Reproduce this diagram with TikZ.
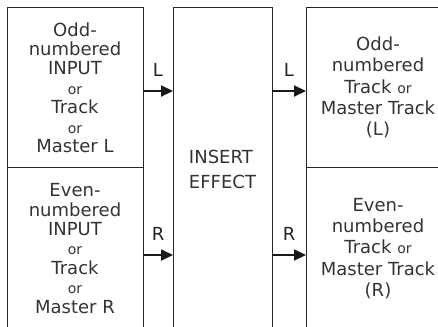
\documentclass[tikz,border=0pt]{standalone}
\usepackage{fontspec}
\setmainfont{DejaVu Sans}
\usetikzlibrary{arrows.meta}
\newcommand{\smallor}{{\fontsize{7}{9.7}\selectfont or}}
\begin{document}
\begin{tikzpicture}[x=0.5pt,y=-0.5pt,
box/.style={draw=black!85,line width=0.5pt,align=center,inner sep=0pt,outer sep=0pt,text=black!80,font=\fontsize{9}{9.7}\selectfont},
sig/.style={-{Triangle[length=6pt,width=5.5pt]},line width=1pt,black!90},
chan/.style={above=3.5pt,text=black!85,font=\fontsize{9}{9.7}\selectfont}]
\useasboundingbox (0,0) rectangle (438,326);
\clip (0,0) rectangle (438,326);
\node[box,minimum width=68pt,minimum height=79.5pt](oddin)at(75,87.5){Odd-\\numbered\\INPUT\\\smallor\\Track\\\smallor\\Master L};
\node[box,minimum width=68pt,minimum height=81.5pt](evenin)at(75,248.5){Even-\\numbered\\INPUT\\\smallor\\Track\\\smallor\\Master R};
\node[box,align=left,font=\fontsize{9}{12.5}\selectfont,minimum width=49.5pt,minimum height=161pt](fx)at(222.5,169){INSERT\\EFFECT};
\node[box,font=\fontsize{9}{10.7}\selectfont,minimum width=72pt,minimum height=79.5pt](oddout)at(378,87.5){Odd-\\numbered\\Track \smallor\\Master Track\\(L)};
\node[box,font=\fontsize{9}{10.7}\selectfont,minimum width=72pt,minimum height=81.5pt](evenout)at(378,248.5){Even-\\numbered\\Track \smallor\\Master Track\\(R)};
\draw[sig]([yshift=-1.75pt]oddin.east)--node[chan](inL){L}([yshift=-1.75pt]oddin.east-|fx.west);
\draw[sig]([yshift=-3.25pt]evenin.east)--node[chan](inR){R}([yshift=-3.25pt]evenin.east-|fx.west);
\draw[sig]([yshift=-1.75pt]oddout.west-|fx.east)--node[chan](outL){L}([yshift=-1.75pt]oddout.west);
\draw[sig]([yshift=-3.25pt]evenout.west-|fx.east)--node[chan](outR){R}([yshift=-3.25pt]evenout.west);
\end{tikzpicture}
\end{document}
